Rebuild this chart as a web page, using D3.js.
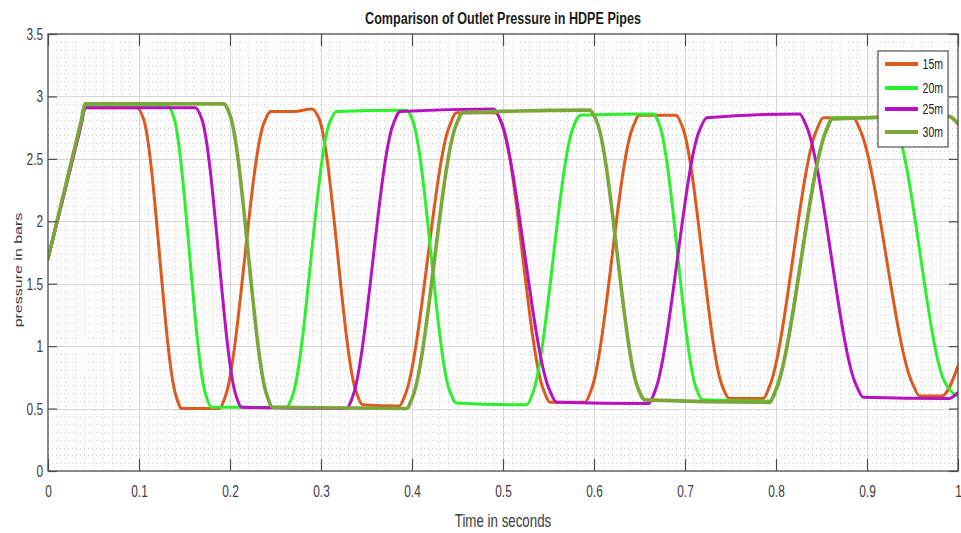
<!DOCTYPE html>
<html><head><meta charset="utf-8">
<script src="https://cdn.jsdelivr.net/npm/d3@7"></script>
<style>
html,body{margin:0;padding:0;background:#fff;}
svg{display:block;font-family:"Liberation Sans",Arial,sans-serif;}
</style></head>
<body>
<script>
// ---------- data ----------
const seriesNames = ["15m","20m","25m","30m"];
const seriesColors = ["#DC5A1E","#2CF02C","#B612C0","#7BA73A"];

const t15 = [0,0.036,0.041,0.098,0.105,0.140,0.147,0.188,0.195,0.237,0.245,0.270,0.290,0.298,0.338,0.346,0.386,0.393,0.441,0.449,0.492,0.499,0.544,0.552,0.590,0.597,0.642,0.650,0.690,0.697,0.741,0.749,0.786,0.793,0.844,0.852,0.885,0.892,0.950,0.958,0.982,1.0];
const p15 = [1.70,2.76,2.91,2.91,2.82,0.62,0.50,0.50,0.60,2.78,2.88,2.88,2.90,2.82,0.65,0.53,0.52,0.62,2.76,2.87,2.87,2.78,0.66,0.55,0.55,0.65,2.74,2.85,2.85,2.76,0.68,0.58,0.58,0.68,2.72,2.83,2.83,2.74,0.70,0.60,0.60,0.84];

const t20 = [0,0.036,0.041,0.131,0.138,0.173,0.180,0.262,0.269,0.309,0.317,0.394,0.401,0.441,0.449,0.526,0.533,0.577,0.585,0.665,0.672,0.712,0.719,0.793,0.800,0.855,0.862,0.925,0.932,0.985,0.995,1.0];
const p20 = [1.70,2.78,2.93,2.93,2.84,0.62,0.51,0.51,0.61,2.78,2.88,2.89,2.80,0.65,0.545,0.53,0.63,2.75,2.85,2.86,2.77,0.67,0.57,0.56,0.66,2.73,2.83,2.83,2.75,0.72,0.62,0.60];

const t25 = [0,0.036,0.041,0.162,0.169,0.206,0.213,0.328,0.335,0.379,0.387,0.490,0.497,0.551,0.559,0.660,0.667,0.716,0.724,0.826,0.833,0.888,0.896,0.990,1.0];
const p25 = [1.70,2.76,2.91,2.91,2.82,0.62,0.51,0.50,0.60,2.77,2.88,2.90,2.81,0.65,0.55,0.54,0.64,2.73,2.83,2.86,2.77,0.69,0.59,0.58,0.63];

const t30 = [0,0.036,0.041,0.193,0.200,0.240,0.247,0.394,0.401,0.448,0.456,0.595,0.603,0.648,0.656,0.793,0.800,0.855,0.862,0.990,1.0];
const p30 = [1.70,2.79,2.94,2.94,2.85,0.62,0.51,0.50,0.60,2.76,2.87,2.89,2.80,0.67,0.57,0.55,0.65,2.72,2.82,2.84,2.78];

const xTicks = [0,0.1,0.2,0.3,0.4,0.5,0.6,0.7,0.8,0.9,1];
const xTickLabels = ["0","0.1","0.2","0.3","0.4","0.5","0.6","0.7","0.8","0.9","1"];
const yTicks = [0,0.5,1,1.5,2,2.5,3,3.5];
const yTickLabels = ["0","0.5","1","1.5","2","2.5","3","3.5"];

const titleText = "Comparison of Outlet Pressure in HDPE Pipes";
const xLabelText = "Time in seconds";
const yLabelText = "pressure in bars";

// ---------- layout ----------
const W = 961, H = 533;
const L = 48, R = 958, T = 34, B = 471;
const SX = 0.7; // horizontal text compression

const x = d3.scaleLinear().domain([0,1]).range([L,R]);
const y = d3.scaleLinear().domain([0,3.5]).range([B,T]);

const svg = d3.select("body").append("svg").attr("width",W).attr("height",H);
svg.append("rect").attr("width",W).attr("height",H).attr("fill","#fff");

// minor grid (dotted)
const gMinor = svg.append("g").attr("stroke","#cfcfcf").attr("stroke-width",1)
  .attr("stroke-dasharray","1 3").attr("shape-rendering","crispEdges");
const xMinor = d3.range(1,100).map(i=>i/100).filter(v=>Math.round(v*100)%10!==0);
const yMinor = d3.range(1,56).map(i=>i*0.0625).filter(v=>Math.abs(v*2-Math.round(v*2))>1e-6);
gMinor.selectAll(".mx").data(xMinor).join("line")
  .attr("x1",d=>Math.round(x(d))+0.5).attr("x2",d=>Math.round(x(d))+0.5).attr("y1",T).attr("y2",B);
gMinor.selectAll(".my").data(yMinor).join("line")
  .attr("y1",d=>Math.round(y(d))+0.5).attr("y2",d=>Math.round(y(d))+0.5).attr("x1",L).attr("x2",R);

// major grid
const gMajor = svg.append("g").attr("stroke","#d6d6d6").attr("stroke-width",1).attr("shape-rendering","crispEdges");
gMajor.selectAll(".gx").data(xTicks.slice(1,-1)).join("line")
  .attr("x1",d=>Math.round(x(d))+0.5).attr("x2",d=>Math.round(x(d))+0.5).attr("y1",T).attr("y2",B);
gMajor.selectAll(".gy").data(yTicks.slice(1,-1)).join("line")
  .attr("y1",d=>Math.round(y(d))+0.5).attr("y2",d=>Math.round(y(d))+0.5).attr("x1",L).attr("x2",R);

// series
const allT = [t15,t20,t25,t30], allP = [p15,p20,p25,p30];
const line = d3.line().x(d=>x(d[0])).y(d=>y(d[1])).curve(d3.curveMonotoneX);
svg.append("clipPath").attr("id","plotclip").append("rect")
  .attr("x",L).attr("y",T).attr("width",R-L).attr("height",B-T);
const gLines = svg.append("g").attr("clip-path","url(#plotclip)");
seriesNames.forEach((name,i)=>{
  const pts = allT[i].map((t,j)=>[t,allP[i][j]]);
  gLines.append("path").datum(pts).attr("d",line).attr("fill","none")
    .attr("stroke",seriesColors[i]).attr("stroke-width", i===3?3.6:3)
    .attr("stroke-linejoin","round").attr("stroke-linecap","round");
});

// axes
const axisColor = "#4a4a4a";
function styleAxis(g){
  g.select(".domain").remove();
  g.selectAll(".tick line").attr("stroke",axisColor).attr("stroke-width",1.2);
  g.selectAll(".tick text").attr("fill","#3c3c3c").attr("font-size",17)
    .attr("font-family","'Liberation Sans',Arial,sans-serif");
}
const gxB = svg.append("g").attr("transform",`translate(0,${B})`)
  .call(d3.axisBottom(x).tickValues(xTicks).tickFormat((d,i)=>xTickLabels[i]).tickSize(-12).tickPadding(14));
styleAxis(gxB);
gxB.selectAll(".tick text").attr("transform",`scale(${SX},1)`);
const gxT = svg.append("g").attr("transform",`translate(0,${T})`)
  .call(d3.axisTop(x).tickValues(xTicks).tickFormat("").tickSize(-12));
styleAxis(gxT);
const gyL = svg.append("g").attr("transform",`translate(${L},0)`)
  .call(d3.axisLeft(y).tickValues(yTicks).tickFormat((d,i)=>yTickLabels[i]).tickSize(-9).tickPadding(7));
styleAxis(gyL);
gyL.selectAll(".tick text").attr("transform",`scale(${SX},1)`);
const gyR = svg.append("g").attr("transform",`translate(${R},0)`)
  .call(d3.axisRight(y).tickValues(yTicks).tickFormat("").tickSize(-9));
styleAxis(gyR);

// box
svg.append("rect").attr("x",L).attr("y",T).attr("width",R-L).attr("height",B-T)
  .attr("fill","none").attr("stroke",axisColor).attr("stroke-width",1.3);

// title & labels
svg.append("text").attr("transform",`translate(503,24) scale(0.74,1)`)
  .attr("text-anchor","middle").attr("font-weight","bold").attr("font-size",17)
  .attr("fill","#1a1a1a").text(titleText);
svg.append("text").attr("transform",`translate(503,527) scale(0.74,1)`)
  .attr("text-anchor","middle").attr("font-size",18).attr("fill","#3c3c3c").text(xLabelText);
svg.append("text").attr("transform",`translate(22,270) scale(0.72,1) rotate(-90)`)
  .attr("text-anchor","middle").attr("font-size",16).attr("fill","#3c3c3c").text(yLabelText);

// legend
const lg = svg.append("g");
lg.append("rect").attr("x",878).attr("y",51).attr("width",70).attr("height",96)
  .attr("fill","#fff").attr("stroke","#333").attr("stroke-width",1);
const legY = [64,88,109,132];
seriesNames.forEach((name,i)=>{
  lg.append("line").attr("x1",885).attr("x2",918).attr("y1",legY[i]).attr("y2",legY[i])
    .attr("stroke",seriesColors[i]).attr("stroke-width",4);
  lg.append("text").attr("transform",`translate(943,${legY[i]+5}) scale(${SX},1)`)
    .attr("text-anchor","end").attr("font-size",15).attr("fill","#222").text(name);
});
</script>
</body></html>
